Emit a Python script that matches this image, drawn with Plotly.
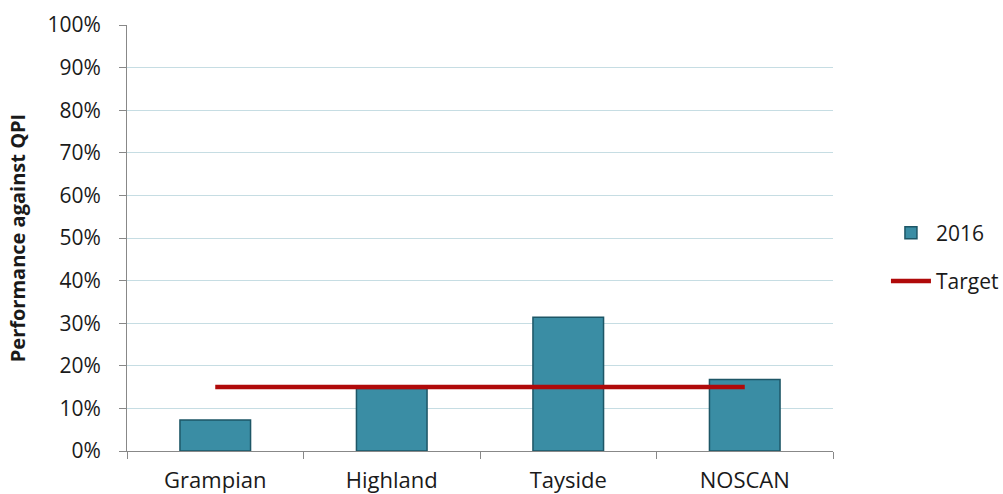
import plotly.graph_objects as go

categories = ["Grampian", "Highland", "Tayside", "NOSCAN"]
values_2016 = [7.3, 14.7, 31.4, 16.8]
target = [15, 15, 15, 15]
y_ticks = list(range(0, 101, 10))
y_labels = [f"{v}%" for v in y_ticks]

fig = go.Figure()
fig.add_trace(go.Bar(
    x=categories, y=values_2016, name="2016", legendgroup="a",
    marker=dict(color="#3A8DA4", line=dict(color="#1D5666", width=1.5)),
))
fig.add_trace(go.Scatter(
    x=categories, y=target, name="Target", mode="lines", legendgroup="b",
    line=dict(color="#B00A0A", width=4.5),
))

fig.update_layout(
    width=1003, height=494,
    margin=dict(l=127, r=170, t=25, b=43, autoexpand=False),
    paper_bgcolor="white", plot_bgcolor="white",
    bargap=0.6,
    font=dict(family="Open Sans, sans-serif", color="#1a1a1a", size=20),
    showlegend=True,
    legend=dict(x=1.075, y=0.455, yanchor="middle", xanchor="left",
                font=dict(size=21), tracegroupgap=18, itemwidth=40),
)
fig.update_xaxes(
    showline=True, linecolor="#888888", linewidth=1,
    ticks="outside", tickson="boundaries", ticklen=7, tickcolor="#888888",
    tickfont=dict(size=22), showgrid=False, ticklabelstandoff=10,
    automargin=False,
)
fig.update_yaxes(
    range=[0, 100], tickvals=y_ticks, ticktext=y_labels,
    showline=True, linecolor="#888888", linewidth=1,
    ticks="outside", ticklen=7, tickcolor="#888888",
    gridcolor="#C6DDE3", gridwidth=1, automargin=False,
    tickfont=dict(size=21), ticklabelstandoff=14,
    title=dict(text="<b>Performance against QPI</b>", font=dict(size=20), standoff=16),
)
fig.write_html("out.html")
